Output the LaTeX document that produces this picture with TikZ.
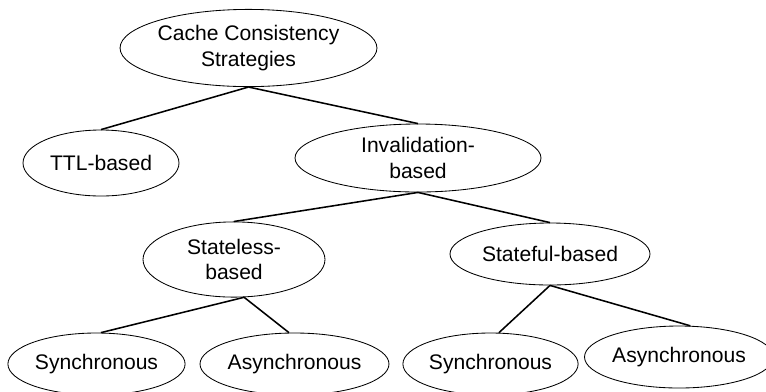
\documentclass[tikz,border=0pt]{standalone}
\usepackage{fontspec}
\setmainfont{Liberation Sans}
\usetikzlibrary{shapes.geometric}
\tikzset{oval/.style={draw,ellipse,inner sep=0pt,align=center,font=\fontsize{15}{18}\selectfont,line width=0.6pt}}
\begin{document}
\begin{tikzpicture}[x=0.25cm,y=-0.25cm]
\useasboundingbox (0,0) rectangle (76.6,39.1);
\node[oval,minimum width=6.33cm,minimum height=1.93cm] (ccs) at (24.85,4.8) {Cache Consistency\\Strategies};
\node[oval,minimum width=3.9cm,minimum height=1.65cm] (ttl) at (10.1,16.3) {TTL-based};
\node[oval,minimum width=6.15cm,minimum height=1.7cm] (inv) at (41.8,15.8) {Invalidation-\\based};
\node[oval,minimum width=4.55cm,minimum height=1.88cm] (sless) at (23.4,25.95) {Stateless-\\based};
\node[oval,minimum width=5.0cm,minimum height=1.55cm] (sful) at (55.0,25.4) {Stateful-based};
\node[oval,minimum width=4.43cm,minimum height=1.55cm] (sync1) at (9.65,36.4) {Synchronous};
\node[oval,minimum width=4.38cm,minimum height=1.55cm] (async1) at (29.45,36.4) {Asynchronous};
\node[oval,minimum width=4.38cm,minimum height=1.55cm] (sync2) at (49.05,36.4) {Synchronous};
\node[oval,minimum width=4.3cm,minimum height=1.55cm] (async2) at (67.9,35.7) {Asynchronous};
\draw[line width=1.1pt] (ccs.south) -- (ttl.north);
\draw[line width=1.1pt] (ccs.south) -- (inv.north);
\draw[line width=1.1pt] (inv.south) -- (sless.north);
\draw[line width=1.1pt] (inv.south) -- (sful.north);
\draw[line width=1.1pt] (sless.-75) -- (sync1.82);
\draw[line width=1.1pt] (sless.-75) -- (async1.100);
\draw[line width=1.1pt] (sful.south) -- (sync2.75);
\draw[line width=1.1pt] (sful.south) -- (async2.70);
\end{tikzpicture}
\end{document}
